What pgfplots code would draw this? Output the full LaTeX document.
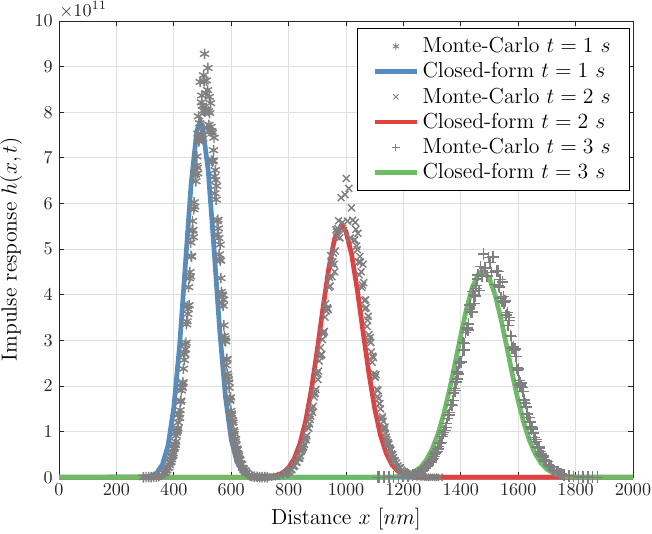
\documentclass[border=0pt]{standalone}
\usepackage{pgfplots}
\pgfplotsset{compat=1.18}
\definecolor{cfblue}{RGB}{83,141,194}
\definecolor{cfred}{RGB}{229,64,64}
\definecolor{cfgreen}{RGB}{106,189,98}
\definecolor{mcgray}{RGB}{128,128,128}
\definecolor{axgray}{RGB}{38,38,38}
\definecolor{gridgray}{RGB}{223,223,223}
\pgfplotsset{
 mcone/.style={only marks, mark=asterisk, mark size=2.9pt, color=mcgray, mark options={line width=0.8pt}},
 mctwo/.style={only marks, mark=x, mark size=2.7pt, color=mcgray, mark options={line width=0.8pt}},
 mcthree/.style={only marks, mark=+, mark size=3.2pt, color=mcgray, mark options={line width=0.8pt}},
}
\begin{document}
\begin{tikzpicture}
\begin{axis}[name=ax, width=317pt, height=252pt, scale only axis,
 xmin=0, xmax=2000, ymin=0, ymax=10,
 xtick={0,200,...,2000}, ytick={0,1,...,10},
 grid=major, major grid style={gridgray, line width=0.5pt},
 axis line style={axgray, line width=0.5pt},
 tick style={axgray, line width=0.5pt}, tick align=inside, major tick length=3pt,
 tick label style={font=\normalsize, text=axgray},
 xticklabel style={/pgf/number format/1000 sep={}},
 xlabel={Distance $x$ $[nm]$}, ylabel={Impulse response $h(x,t)$},
 label style={font=\fontsize{12}{14}\selectfont},
 clip=false,
 legend cell align=left,
 legend style={at={(0.995,0.985)}, anchor=north east, draw=black, line width=0.5pt, font=\large, inner xsep=8.5pt, inner ysep=3pt},
 legend image code/.code={\draw[mark repeat=2,mark phase=2,#1] plot coordinates {(0cm,0cm)(0.4cm,0cm)(0.8cm,0cm)};},
 legend image post style={mark size=2pt, mark options={line width=0.5pt}},
]
% Monte-Carlo t = 1 s
\addplot[mcone] coordinates {
(294,0.000)(303,0.001)(312,0.002)(321,0.004)(330,0.007)(339,0.015)(348,0.028)(357,0.052)
(366,0.095)(369,0.105)(372,0.142)(375,0.156)(378,0.206)(381,0.211)(384,0.268)(387,0.323)(390,0.336)(393,0.452)
(396,0.480)(399,0.630)(402,0.653)(405,0.706)(408,0.911)(411,1.009)(414,1.078)(417,1.372)(420,1.302)(423,1.654)
(426,1.903)(429,1.959)(432,2.084)(435,2.718)(438,2.695)(441,2.806)(444,3.354)(447,3.752)(450,3.686)(453,3.773)
(456,4.496)(459,5.145)(462,4.833)(465,5.616)(468,5.264)(471,6.027)(474,6.641)(477,6.487)(480,7.032)(483,6.661)
(486,7.911)(489,7.391)(492,8.664)(495,7.509)(498,8.367)(501,7.421)(504,8.811)(507,9.280)(510,8.051)(513,8.698)
(516,7.659)(519,8.971)(522,7.723)(525,7.983)(528,8.200)(531,6.939)(534,7.545)(537,6.944)(540,7.441)(543,6.225)
(546,6.516)(549,6.385)(552,5.320)(555,5.456)(558,4.883)(561,5.098)(564,4.364)(567,3.814)(570,3.990)(573,3.893)
(576,3.096)(579,3.043)(582,2.452)(585,2.596)(588,2.217)(591,2.079)(594,1.705)(597,1.751)(600,1.402)(603,1.194)
(606,1.202)(609,0.999)(612,0.842)(615,0.835)(618,0.607)(621,0.602)(624,0.505)(627,0.409)(630,0.387)(633,0.308)
(636,0.286)(639,0.208)(642,0.195)(645,0.151)(648,0.149)(651,0.109)(654,0.096)
(663,0.052)(672,0.028)(681,0.015)(690,0.007)(699,0.004)(708,0.002)(717,0.001)(726,0.000)};
\addlegendentry{Monte-Carlo $t=1\ s$}
\addplot[mcone, forget plot] coordinates {
(391.5,0.392)(394.5,0.473)(397.5,0.521)(400.5,0.621)(403.5,0.726)(406.5,0.780)(409.5,0.973)(412.5,1.039)
(415.5,1.201)(418.5,1.396)(421.5,1.471)(424.5,1.682)(427.5,1.980)(430.5,2.053)(433.5,2.378)(436.5,2.570)
(439.5,2.908)(442.5,2.949)(445.5,3.415)(448.5,3.580)(451.5,4.167)(454.5,4.360)(457.5,4.404)(460.5,4.853)
(463.5,5.400)(466.5,5.422)(469.5,5.872)(472.5,5.933)(475.5,6.635)(478.5,6.826)(481.5,6.785)(484.5,7.532)
(487.5,7.362)(490.5,7.758)(493.5,7.511)(496.5,8.217)(499.5,8.145)(502.5,8.035)(505.5,8.677)(508.5,8.006)
(511.5,8.420)(514.5,8.057)(517.5,8.486)(520.5,8.023)(523.5,8.337)(526.5,7.589)(529.5,7.681)(532.5,7.585)
(535.5,6.920)(538.5,7.168)(541.5,6.592)(544.5,6.732)(547.5,6.086)(550.5,5.611)(553.5,5.643)(556.5,5.244)
(559.5,4.779)(562.5,4.747)(565.5,4.063)(568.5,4.009)(571.5,3.763)(574.5,3.331)(577.5,2.995)(580.5,2.978)
(583.5,2.570)(586.5,2.273)(589.5,2.148)(592.5,1.961)(595.5,1.674)(598.5,1.456)(601.5,1.362)(604.5,1.249)
(607.5,1.034)(610.5,0.950)(613.5,0.784)(616.5,0.712)(619.5,0.633)(622.5,0.529)(625.5,0.466)(628.5,0.382)};
% Closed-form t = 1 s
\addplot[color=cfblue, line width=2.6pt] coordinates {
(0,0)(300,0.007)(320,0.026)(340,0.092)(360,0.274)(380,0.700)(400,1.533)(420,2.879)(440,4.638)(460,6.406)
(480,7.587)(492,7.800)(500,7.705)(520,6.709)(540,5.009)(560,3.207)(580,1.760)(600,0.829)(620,0.334)(640,0.116)
(660,0.034)(680,0.009)(700,0.002)(2000,0)};
\addlegendentry{Closed-form $t=1\ s$}
% Monte-Carlo t = 2 s
\addplot[mctwo] coordinates {
(677,0.000)(690.5,0.001)(704,0.001)(717.5,0.003)(731,0.005)(744.5,0.010)(758,0.019)(771.5,0.036)
(785,0.067)(789.5,0.073)(794,0.094)(798.5,0.118)(803,0.131)(807.5,0.162)(812,0.174)(816.5,0.235)(821,0.250)(825.5,0.333)
(830,0.329)(834.5,0.416)(839,0.420)(843.5,0.567)(848,0.619)(852.5,0.670)(857,0.824)(861.5,0.826)(866,1.100)(870.5,1.077)
(875,1.267)(879.5,1.481)(884,1.425)(888.5,1.762)(893,1.845)(897.5,2.250)(902,2.141)(906.5,2.549)(911,2.841)(915.5,2.694)
(920,3.142)(924.5,3.199)(929,3.799)(933.5,3.701)(938,3.678)(942.5,4.379)(947,4.860)(951.5,4.396)(956,4.914)(960.5,4.505)
(965,5.426)(969.5,5.271)(974,5.622)(978.5,5.248)(983,6.128)(987.5,5.585)(992,5.410)(996.5,6.194)(1001,6.550)(1005.5,5.615)
(1010,6.331)(1014.5,5.243)(1019,5.903)(1023.5,5.634)(1028,5.190)(1032.5,5.587)(1037,5.068)(1041.5,5.347)(1046,4.437)(1050.5,4.716)
(1055,4.159)(1059.5,4.670)(1064,3.876)(1068.5,3.888)(1073,3.307)(1077.5,3.529)(1082,2.988)(1086.5,2.952)(1091,2.522)(1095.5,2.623)
(1100,2.209)(1104.5,2.250)(1109,1.770)(1113.5,1.728)(1118,1.611)(1122.5,1.285)(1127,1.329)(1131.5,1.088)(1136,1.100)(1140.5,0.879)
(1145,0.730)(1149.5,0.726)(1154,0.619)(1158.5,0.509)(1163,0.498)(1167.5,0.364)(1172,0.356)(1176.5,0.315)(1181,0.250)(1185.5,0.205)
(1190,0.205)(1194.5,0.157)(1199,0.125)(1203.5,0.115)(1208,0.100)(1212.5,0.076)(1217,0.059)
(1230.5,0.036)(1244,0.019)(1257.5,0.010)(1271,0.005)(1284.5,0.003)(1298,0.001)(1311.5,0.001)(1325,0.000)};
\addlegendentry{Monte-Carlo $t=2\ s$}
\addplot[mctwo, forget plot] coordinates {
(836.75,0.436)(841.25,0.475)(845.75,0.584)(850.25,0.651)(854.75,0.722)(859.25,0.877)(863.75,0.910)(868.25,1.087)
(872.75,1.169)(877.25,1.337)(881.75,1.524)(886.25,1.556)(890.75,1.832)(895.25,1.923)(899.75,2.287)(904.25,2.327)
(908.75,2.654)(913.25,2.677)(917.75,3.018)(922.25,3.173)(926.75,3.510)(931.25,3.646)(935.75,3.712)(940.25,4.165)
(944.75,4.190)(949.25,4.682)(953.75,4.723)(958.25,4.668)(962.75,4.961)(967.25,5.379)(971.75,5.448)
(1030.25,5.207)(1034.75,5.431)(1039.25,4.987)(1043.75,4.717)(1048.25,4.840)(1052.75,4.502)(1057.25,4.211)(1061.75,4.266)
(1066.25,3.693)(1070.75,3.719)(1075.25,3.442)(1079.75,3.125)(1084.25,3.062)(1088.75,2.746)(1093.25,2.654)(1097.75,2.269)
(1102.25,2.190)(1106.75,1.923)(1111.25,1.904)(1115.75,1.613)(1120.25,1.501)(1124.75,1.284)(1129.25,1.229)(1133.75,1.044)
(1138.25,0.957)(1142.75,0.814)(1147.25,0.763)(1151.75,0.642)(1156.25,0.593)(1160.75,0.480)(1165.25,0.432)};
% Closed-form t = 2 s
\addplot[color=cfred, line width=2.6pt] coordinates {
(0,0)(700,0.002)(720,0.007)(740,0.018)(760,0.044)(780,0.100)(800,0.211)(820,0.412)(840,0.747)(860,1.253)
(880,1.945)(900,2.795)(920,3.719)(940,4.580)(960,5.221)(984,5.520)(1000,5.385)(1020,4.871)(1040,4.079)(1060,3.162)
(1080,2.269)(1100,1.508)(1120,0.927)(1140,0.528)(1160,0.278)(1180,0.136)(1200,0.061)(1220,0.026)(1240,0.010)
(1260,0.004)(1280,0.001)(1300,0)(2000,0)};
\addlegendentry{Closed-form $t=2\ s$}
% Monte-Carlo t = 3 s
\addplot[mcthree] coordinates {
(1111,0.000)(1116.5,0.000)(1133,0.001)(1149.5,0.002)(1166,0.004)(1182.5,0.008)(1199,0.016)(1215.5,0.029)
(1232,0.052)(1237.5,0.059)(1243,0.078)(1248.5,0.096)(1254,0.103)(1259.5,0.129)(1265,0.139)(1270.5,0.181)(1276,0.204)(1281.5,0.245)
(1287,0.267)(1292.5,0.341)(1298,0.365)(1303.5,0.407)(1309,0.510)(1314.5,0.558)(1320,0.616)(1325.5,0.762)(1331,0.757)(1336.5,0.932)
(1342,1.020)(1347.5,1.089)(1353,1.294)(1358.5,1.362)(1364,1.595)(1369.5,1.574)(1375,1.845)(1380.5,1.896)(1386,2.308)(1391.5,2.265)
(1397,2.539)(1402.5,2.533)(1408,2.958)(1413.5,2.933)(1419,3.238)(1424.5,3.226)(1430,3.682)(1435.5,3.620)(1441,4.066)(1446.5,3.803)
(1452,4.133)(1457.5,4.344)(1463,4.091)(1468.5,4.614)(1474,4.412)(1479.5,4.889)(1485,4.582)(1490.5,4.414)(1496,4.813)(1501.5,4.706)
(1507,4.485)(1512.5,4.825)(1518,4.223)(1523.5,4.521)(1529,4.516)(1534.5,4.167)(1540,3.932)(1545.5,4.276)(1551,3.825)(1556.5,3.543)
(1562,3.608)(1567.5,3.507)(1573,3.104)(1578.5,2.828)(1584,2.859)(1589.5,2.811)(1595,2.401)(1600.5,2.377)(1606,2.025)(1611.5,1.979)
(1617,1.883)(1622.5,1.643)(1628,1.542)(1633.5,1.314)(1639,1.312)(1644.5,1.104)(1650,1.091)(1655.5,0.869)(1661,0.824)(1666.5,0.667)
(1672,0.660)(1677.5,0.562)(1683,0.476)(1688.5,0.440)(1694,0.352)(1699.5,0.343)(1705,0.269)(1710.5,0.240)(1716,0.213)(1721.5,0.164)
(1727,0.151)(1732.5,0.124)(1738,0.113)(1743.5,0.086)(1749,0.077)(1754.5,0.065)(1760,0.050)
(1776.5,0.029)(1793,0.016)(1809.5,0.008)(1826,0.004)(1842.5,0.002)(1859,0.001)(1875.5,0.000)};
\addlegendentry{Monte-Carlo $t=3\ s$}
\addplot[mcthree, forget plot] coordinates {
(1295.25,0.336)(1300.75,0.405)(1306.25,0.455)(1311.75,0.535)(1317.25,0.564)(1322.75,0.680)(1328.25,0.741)(1333.75,0.897)
(1339.25,0.976)(1344.75,1.025)(1350.25,1.174)(1355.75,1.358)(1361.25,1.418)(1366.75,1.597)(1372.25,1.678)(1377.75,1.951)
(1383.25,2.087)(1388.75,2.158)(1394.25,2.490)(1399.75,2.531)(1405.25,2.773)(1410.75,2.793)(1416.25,3.177)(1421.75,3.273)
(1427.25,3.358)(1432.75,3.772)(1438.25,3.618)(1443.75,3.996)(1449.25,3.977)(1454.75,4.208)(1460.25,4.432)
(1531.75,4.196)(1537.25,4.333)(1542.75,3.856)(1548.25,3.957)(1553.75,3.861)(1559.25,3.556)(1564.75,3.324)(1570.25,3.436)
(1575.75,3.084)(1581.25,2.836)(1586.75,2.787)(1592.25,2.646)(1597.75,2.347)(1603.25,2.124)(1608.75,2.066)(1614.25,1.970)
(1619.75,1.695)(1625.25,1.621)(1630.75,1.390)(1636.25,1.313)(1641.75,1.215)(1647.25,1.057)(1652.75,0.966)(1658.25,0.825)
(1663.75,0.786)(1669.25,0.663)(1674.75,0.626)(1680.25,0.506)(1685.75,0.464)(1691.25,0.379)(1696.75,0.357)};
% Closed-form t = 3 s
\addplot[color=cfgreen, line width=2.6pt] coordinates {
(0,0)(1100,0.001)(1120,0.001)(1140,0.003)(1160,0.007)(1180,0.016)(1200,0.033)(1220,0.066)(1240,0.124)(1260,0.222)
(1280,0.378)(1300,0.612)(1320,0.939)(1340,1.370)(1360,1.896)(1380,2.493)(1400,3.113)(1420,3.691)(1440,4.157)(1460,4.446)
(1476,4.520)(1500,4.355)(1520,3.989)(1540,3.470)(1560,2.866)(1580,2.248)(1600,1.675)(1620,1.185)(1640,0.796)(1660,0.508)
(1680,0.308)(1700,0.177)(1720,0.097)(1740,0.050)(1760,0.025)(1780,0.012)(1800,0.005)(1820,0.002)(1840,0.001)(1860,0)(2000,0)};
\addlegendentry{Closed-form $t=3\ s$}
\node[anchor=south west, inner sep=0pt, yshift=1.5pt, text=axgray, font=\normalsize] at (rel axis cs:0,1) {$\times10^{11}$};
\end{axis}
\pgfresetboundingbox
\path ([xshift=-32.6pt,yshift=-31pt]ax.south west) rectangle ([xshift=10.5pt,yshift=11.6pt]ax.north east);
\end{tikzpicture}
\end{document}
